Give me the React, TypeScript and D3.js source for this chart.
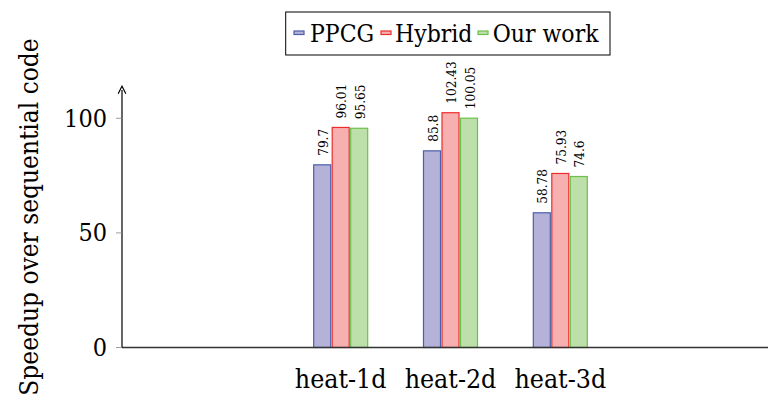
import React from "react";
import * as d3 from "d3";

const categories = ["heat-1d", "heat-2d", "heat-3d"];
const seriesNames = ["PPCG", "Hybrid", "Our work"];
const ppcg = [79.7, 85.8, 58.78];
const hybrid = [96.01, 102.43, 75.93];
const ourWork = [95.65, 100.05, 74.6];
const yTicks = [0, 50, 100];
const yLabel = "Speedup over sequential code";

const fills = ["#b4b2d8", "#f6b0b0", "#bde0ab"];
const strokes = ["#4b5ea8", "#ee2c2c", "#6cc04a"];

const W = 771;
const H = 400;
const FONT = "'DejaVu Serif Condensed', 'DejaVu Serif', serif";

export default function App() {
  const series = [ppcg, hybrid, ourWork];
  const x = d3.scaleLinear().domain([0, 2]).range([340.7, 560.3]);
  const y = d3.scaleLinear().domain([0, 100]).range([347.5, 118.3]);
  const offset = d3.scaleLinear().domain([0, 2]).range([-18.5, 18.5]);
  const bw = 17;
  const axisX = 122;
  const axisY = y(0);
  const fmt = (v: number) => String(v);

  const legendItems = [
    { mx: 294, tx: 310 },
    { mx: 381, tx: 395 },
    { mx: 478, tx: 492.7 },
  ];

  return (
    <svg
      width={W}
      height={H}
      style={{ position: "absolute", left: 0, top: 0, background: "#fff" }}
      fontFamily={FONT}
    >
      <defs>
        <marker id="arr" viewBox="0 0 10 10" refX="5" refY="5" markerWidth="8" markerHeight="8" orient="auto">
          <path d="M1,1 L9,5 L1,9" fill="none" stroke="#000" strokeWidth="1.2" />
        </marker>
      </defs>

      {series.map((vals, j) =>
        vals.map((v, i) => {
          const cx = x(i) + offset(j);
          return (
            <g key={`${j}-${i}`}>
              <rect
                x={cx - bw / 2}
                y={y(v)}
                width={bw}
                height={axisY - y(v)}
                fill={fills[j]}
                stroke={strokes[j]}
                strokeWidth={1.2}
              />
              <text
                transform={`translate(${cx + 5.5},${y(v) - 9}) rotate(-90)`}
                fontSize={13.5}
                fill="#000"
              >
                {fmt(v)}
              </text>
            </g>
          );
        })
      )}

      <line x1={axisX} x2={768} y1={axisY} y2={axisY} stroke="#333" strokeWidth={1.3} />
      {categories.map((c, i) => (
        <text key={c} x={x(i)} y={388} textAnchor="middle" fontSize={26.5} fill="#000">
          {c}
        </text>
      ))}

      <line x1={axisX} x2={axisX} y1={axisY} y2={90} stroke="#000" strokeWidth={1.2} markerEnd="url(#arr)" />
      {yTicks.map((t) => (
        <g key={t}>
          <line x1={axisX - 6} x2={axisX} y1={y(t)} y2={y(t)} stroke="#888" strokeWidth={0.8} />
          <text x={107} y={y(t) + 8.5} textAnchor="end" fontSize={25} fill="#000">
            {t}
          </text>
        </g>
      ))}
      <text
        transform={`translate(38,${217}) rotate(-90)`}
        textAnchor="middle"
        fontSize={26}
        fill="#000"
      >
        {yLabel}
      </text>

      <rect x={285.7} y={12} width={324.3} height={43} fill="#fff" stroke="#000" strokeWidth={1} />
      {seriesNames.map((n, j) => (
        <g key={n}>
          <rect x={legendItems[j].mx} y={31} width={10} height={3.5} fill={fills[j]} stroke={strokes[j]} strokeWidth={1.2} />
          <text x={legendItems[j].tx} y={41.5} fontSize={24.5} fill="#000">
            {n}
          </text>
        </g>
      ))}
    </svg>
  );
}
